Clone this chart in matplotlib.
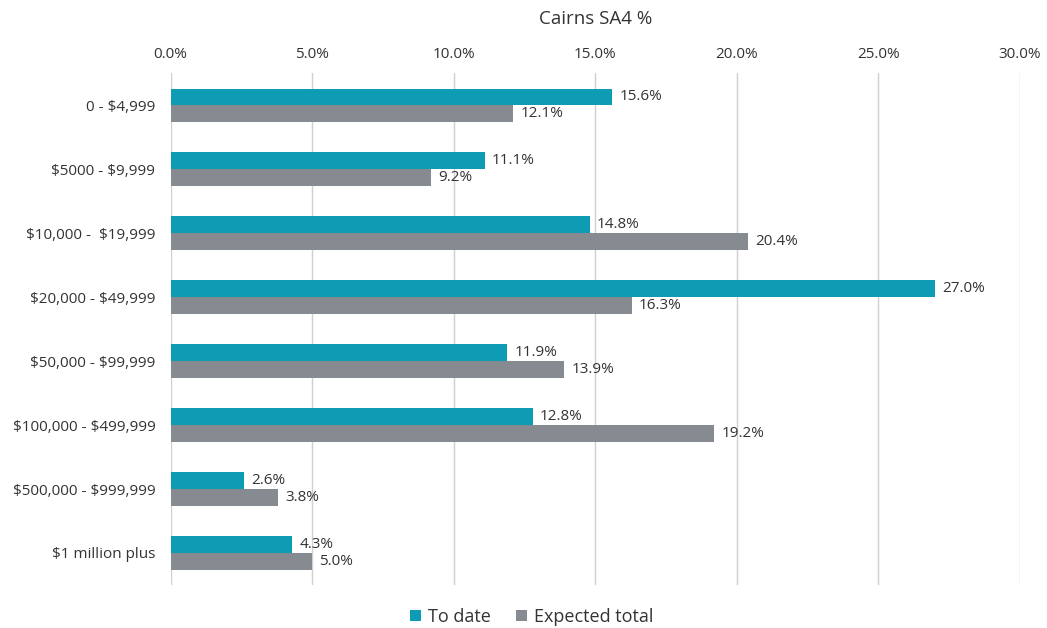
import numpy as np
import matplotlib.pyplot as plt

plt.rcParams['font.family'] = ['Open Sans', 'DejaVu Sans']
plt.rcParams['text.parse_math'] = False

categories = ['0 - $4,999', '$5000 - $9,999', '$10,000 -  $19,999', '$20,000 - $49,999',
              '$50,000 - $99,999', '$100,000 - $499,999', '$500,000 - $999,999', '$1 million plus']
to_date = [15.6, 11.1, 14.8, 27.0, 11.9, 12.8, 2.6, 4.3]
expected_total = [12.1, 9.2, 20.4, 16.3, 13.9, 19.2, 3.8, 5.0]

teal = '#0e9cb4'
grey = '#868b91'
txt = '#333333'

fig = plt.figure(figsize=(10.47, 6.28), dpi=100)
ax = fig.add_axes([0.163, 0.0685, 0.811, 0.815])

y = np.arange(len(categories))
h = 0.26
b1 = ax.barh(y - h / 2, to_date, height=h, color=teal, label='To date', zorder=3)
b2 = ax.barh(y + h / 2, expected_total, height=h, color=grey, label='Expected total', zorder=3)

for bars, vals in ((b1, to_date), (b2, expected_total)):
    for bar, v in zip(bars, vals):
        ax.text(v + 0.25, bar.get_y() + bar.get_height() / 2, f'{v:.1f}%',
                va='center', ha='left', fontsize=11, color=txt)

ax.set_xlim(0, 30)
ax.set_ylim(len(categories) - 0.5, -0.5)
ax.set_xticks(np.arange(0, 31, 5))
ax.set_xticklabels([f'{t:.1f}%' for t in np.arange(0, 31, 5)])
ax.xaxis.tick_top()
ax.set_yticks(y)
ax.set_yticklabels(categories)
ax.tick_params(axis='both', length=0, labelsize=11, colors=txt)
ax.tick_params(axis='x', pad=8)
ax.tick_params(axis='y', pad=11)
ax.grid(axis='x', color='#d0d0d0', linewidth=1, zorder=0)
for s in ax.spines.values():
    s.set_visible(False)

fig.text(0.569, 0.97, 'Cairns SA4 %', ha='center', va='center', fontsize=13.5, color=txt)
fig.legend(loc='center', bbox_to_anchor=(0.508, 0.018), ncol=2, frameon=False,
           fontsize=13, handlelength=0.6, handleheight=0.6, columnspacing=1.4,
           handletextpad=0.4, labelcolor=txt)

fig.savefig('out.png', dpi=100)
